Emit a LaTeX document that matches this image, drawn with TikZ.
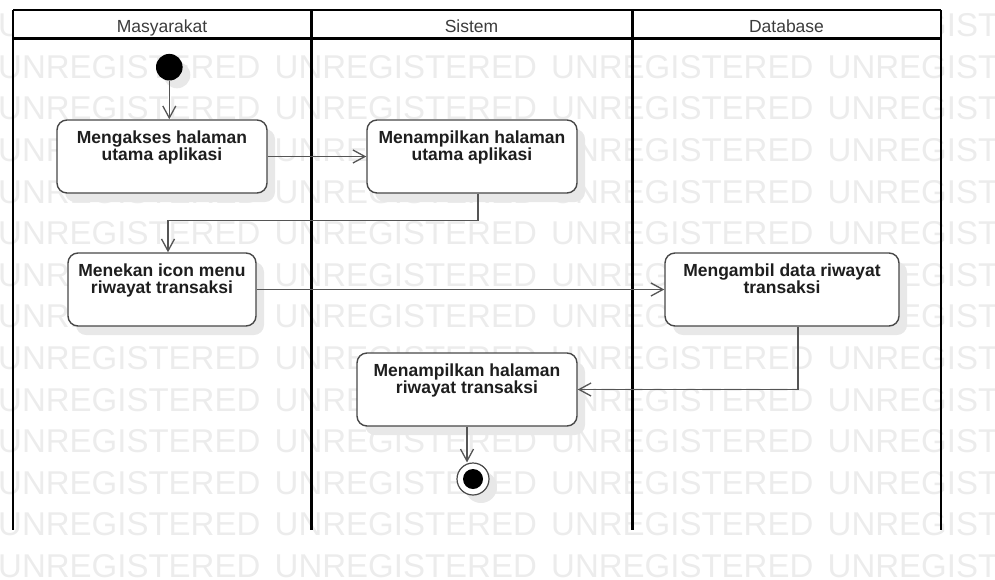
\documentclass[tikz,border=0pt]{standalone}
\usepackage{fontspec}
\setmainfont{Liberation Sans}
\usetikzlibrary{arrows.meta,calc}

\definecolor{wmark}{RGB}{236,236,236}
\definecolor{shade}{RGB}{232,232,232}
\definecolor{edge}{RGB}{72,72,72}
\definecolor{flowc}{RGB}{85,85,85}
\definecolor{ink}{RGB}{30,30,30}
\definecolor{headink}{RGB}{60,60,60}

\begin{document}
\begin{tikzpicture}[x=1pt,y=-1pt,
  wm/.style={anchor=base west, inner sep=0, text=wmark, font=\fontsize{33}{33}\selectfont},
  lane/.style={line width=3pt, black},
  frame/.style={line width=2.5pt, black},
  action/.style={draw=edge, line width=1.4pt, fill=white, rounded corners=10pt,
                 minimum height=73pt, inner sep=0},
  shadowbox/.style={fill=shade, rounded corners=10pt, minimum height=73pt, inner sep=0},
  acttext/.style={anchor=north, inner sep=0, align=center, text=ink,
                  font=\bfseries\fontsize{17.5}{16.4}\selectfont},
  headtext/.style={anchor=base, inner sep=0, text=headink, font=\fontsize{17.5}{18}\selectfont},
  flow/.style={draw=flowc, line width=1.3pt, -{Straight Barb[length=12pt,width=13pt]}},
  dot/.style={circle, inner sep=0},
]
\useasboundingbox (0,0) rectangle (995,579);
\clip (0,0) rectangle (995,579);

% background watermark rows
\foreach \k in {0,...,13}
  \foreach \i in {0,...,3}
    \node[wm] (wm-\k-\i) at (-2+276.5*\i, 36.6+41.6*\k) {UNREGISTERED};

% swimlane header
\fill[white] (13,10) rectangle (941,38.7);
\node[headtext] (h1) at (162,32) {Masyarakat};
\node[headtext] (h2) at (471.5,32) {Sistem};
\node[headtext] (h3) at (786.5,32) {Database};

% swimlane frame
\draw[frame] (13,10) -- (941,10);
\draw[frame] (13,38.7) -- (941,38.7);
\draw[frame] (13,10) -- (13,530);
\draw[lane] (311,10) -- (311,530);
\draw[lane] (632,10) -- (632,530);
\draw[frame] (941,10) -- (941,530);

% initial node
\node[dot, fill=shade, minimum size=26.6pt] (start-shadow) at (177,75) {};
\node[dot, fill=black, minimum size=26.6pt] (start) at (169.3,67.2) {};

% actions
\node[shadowbox, minimum width=210pt] (A-shadow) at (170,165.5) {};
\node[action, minimum width=210pt] (A) at (162,156.5) {};
\node[acttext] (A-text) at ($(A.north)+(0,11.5)$) {Mengakses halaman\\utama aplikasi};

\node[shadowbox, minimum width=210pt] (B-shadow) at (480,165.5) {};
\node[action, minimum width=210pt] (B) at (472,156.5) {};
\node[acttext] (B-text) at ($(B.north)+(0,11.5)$) {Menampilkan halaman\\utama aplikasi};

\node[shadowbox, minimum width=188pt] (C-shadow) at (170,298.5) {};
\node[action, minimum width=188pt] (C) at (162,289.5) {};
\node[acttext] (C-text) at ($(C.north)+(0,11.5)$) {Menekan icon menu\\riwayat transaksi};

\node[shadowbox, minimum width=234pt] (D-shadow) at (790,298.5) {};
\node[action, minimum width=234pt] (D) at (782,289.5) {};
\node[acttext] (D-text) at ($(D.north)+(0,11.5)$) {Mengambil data riwayat\\transaksi};

\node[shadowbox, minimum width=220pt] (E-shadow) at (475,398.5) {};
\node[action, minimum width=220pt] (E) at (467,389.5) {};
\node[acttext] (E-text) at ($(E.north)+(0,11.5)$) {Menampilkan halaman\\riwayat transaksi};

% final node
\node[dot, fill=shade, minimum size=32pt] (end-shadow) at (481,487) {};
\node[dot, draw=edge, line width=1.2pt, fill=white, minimum size=32pt] (end) at (473,479) {};
\node[dot, fill=black, minimum size=20pt] (end-dot) at (end) {};

% control flow
\draw[flow] (start) -- (start.south |- A.north);
\draw[flow] (A) -- (B);
\draw[flow] ($(B.south)+(6,0)$) -- ++(0,27) -| ($(C.north)+(6,0)$);
\draw[flow] (C) -- (D);
\draw[flow] ($(D.south)+(16,0)$) |- (E.east);
\draw[flow] (E.south) -- (E.south |- end.north);
\end{tikzpicture}
\end{document}
